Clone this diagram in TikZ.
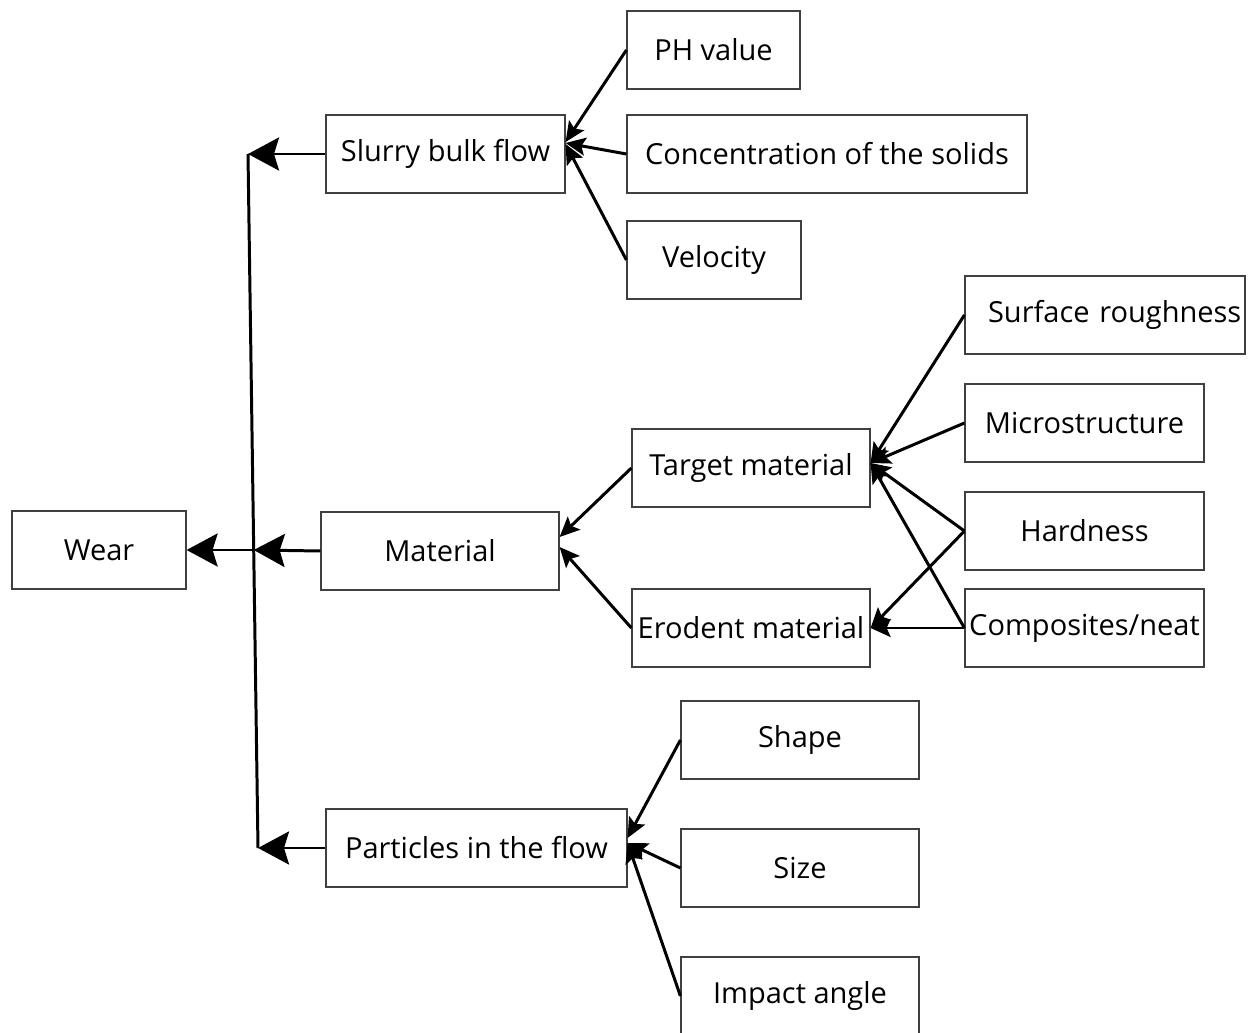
\documentclass[tikz,border=0pt]{standalone}
\usepackage{fontspec}
\setmainfont{Open Sans}
\usetikzlibrary{arrows.meta}

\tikzset{
	box/.style={draw=black!75, line width=0.7pt, minimum height=1.56cm, inner sep=0pt, font=\fontsize{16.5}{19}\selectfont},
	bigarrow/.style={-{Stealth[length=0.62cm,width=0.66cm,inset=0.1cm]}, line width=1.7pt},
	smallarrow/.style={-{Stealth[length=0.4cm,width=0.36cm,inset=0.08cm]}, line width=1.7pt}
}

\begin{document}
\begin{tikzpicture}[x=0.02cm, y=-0.02cm]
	\useasboundingbox (0,0) rectangle (1248,1033);

	% left column
	\node[box, minimum width=3.48cm] (wear) at (99,550) {Wear};
	\node[box, minimum width=4.78cm] (slurry) at (445.5,154) {Slurry bulk flow};
	\node[box, minimum width=4.76cm] (material) at (440,551) {Material};
	\node[box, minimum width=6.02cm] (particles) at (476.5,848) {Particles in the flow};

	% slurry factors
	\node[box, minimum width=3.46cm] (ph) at (713.5,50) {PH value};
	\node[box, minimum width=8.0cm] (conc) at (827,154) {Concentration of the solids};
	\node[box, minimum width=3.48cm] (velocity) at (714,260) {Velocity};

	% material factors
	\node[box, minimum width=4.76cm] (target) at (751,468) {Target material};
	\node[box, minimum width=4.76cm] (erodent) at (751,628) {Erodent material};
	\node[box, minimum width=5.6cm, text width=5.45cm, align=right] (surface) at (1105,315) {Surface roughness};
	\node[box, minimum width=4.78cm] (micro) at (1084.5,423) {Microstructure};
	\node[box, minimum width=4.78cm] (hardness) at (1084.5,531) {Hardness};
	\node[box, minimum width=4.78cm] (composites) at (1084.5,628) {Composites/neat};

	% particle factors
	\node[box, minimum width=4.76cm] (shape) at (800,740) {Shape};
	\node[box, minimum width=4.76cm] (size) at (800,868) {Size};
	\node[box, minimum width=4.76cm] (impact) at (800,996) {Impact angle};

	% trunk
	\coordinate (top) at (248,154);
	\coordinate (mid) at (253.7,550);
	\coordinate (bottom) at (258,848);
	\draw[line width=1.7pt] (top) -- (bottom);
	\draw[bigarrow] (slurry.west) -- (top);
	\draw[bigarrow] (material.west) -- (mid);
	\draw[bigarrow] (mid) -- (wear.east);
	\draw[bigarrow] (particles.west) -- (bottom);

	% into slurry bulk flow
	\draw[smallarrow] (ph.west) -- ([yshift=0.24cm]slurry.east);
	\draw[smallarrow] (conc.west) -- ([yshift=0.22cm]slurry.east);
	\draw[smallarrow] (velocity.west) -- ([yshift=0.2cm]slurry.east);

	% into material
	\draw[smallarrow] (target.west) -- ([yshift=0.28cm]material.east);
	\draw[smallarrow] (erodent.west) -- ([yshift=0.08cm]material.east);

	% into target and erodent
	\draw[smallarrow] (surface.west) -- ([yshift=0.1cm]target.east);
	\draw[smallarrow] (micro.west) -- ([yshift=0.1cm]target.east);
	\draw[smallarrow] (hardness.west) -- ([yshift=0.1cm]target.east);
	\draw[smallarrow] (composites.west) -- ([yshift=0.1cm]target.east);
	\draw[smallarrow] (hardness.west) -- (erodent.east);
	\draw[smallarrow] (composites.west) -- (erodent.east);

	% into particles in the flow
	\draw[smallarrow] (shape.west) -- ([yshift=0.2cm]particles.east);
	\draw[smallarrow] (size.west) -- ([yshift=0.1cm]particles.east);
	\draw[smallarrow] (impact.west) -- ([yshift=0.1cm]particles.east);
\end{tikzpicture}
\end{document}
